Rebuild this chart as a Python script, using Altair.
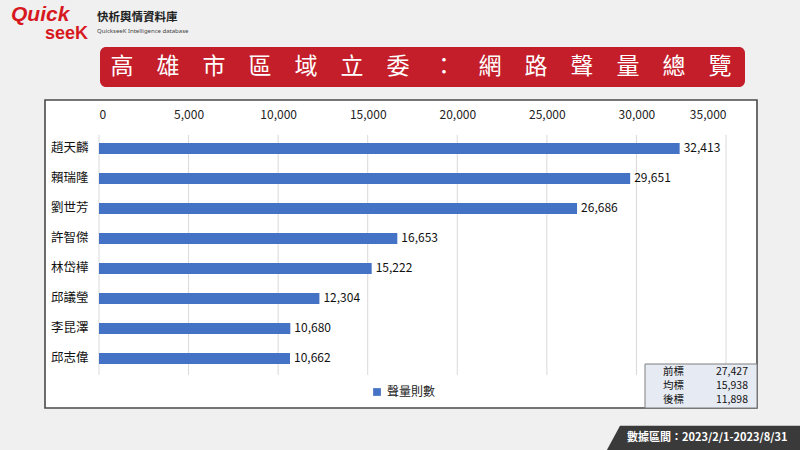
import altair as alt
import pandas as pd

names = ["趙天麟", "賴瑞隆", "劉世芳", "許智傑", "林岱樺", "邱議瑩", "李昆澤", "邱志偉"]
values = [32413, 29651, 26686, 16653, 15222, 12304, 10680, 10662]
series_name = "聲量則數"
x_ticks = [0, 5000, 10000, 15000, 20000, 25000, 30000, 35000]
stat_labels = ["前標", "均標", "後標"]
stat_values = ["27,427", "15,938", "11,898"]
title_text = "高雄市區域立委：網路聲量總覽"
footer_text = "數據區間：2023/2/1-2023/8/31"

FONT = "Noto Sans CJK TC"
OX, OY = 99, 135          # plot origin on the canvas
W, H = 627, 240

df = pd.DataFrame({"name": names, "value": values, "series": [series_name] * len(names)})
grid_df = pd.DataFrame({"value": x_ticks})
one = pd.DataFrame({"k": [0]})


def px(x):
    return x - OX


def py(y):
    return y - OY


base = alt.Chart(one)

# chart box
box = base.mark_rect(fill="white", stroke="#4a4a4a", strokeWidth=1.6).encode(
    x=alt.value(px(45)), x2=alt.value(px(757)), y=alt.value(py(100)), y2=alt.value(py(408))
)

# title banner
banner = base.mark_rect(fill="#c41e2a", cornerRadius=6).encode(
    x=alt.value(px(100)), x2=alt.value(px(745)), y=alt.value(py(47)), y2=alt.value(py(87))
)
banner_text = base.mark_text(
    font=FONT, fontSize=23, color="white", align="center", baseline="middle"
).encode(
    x=alt.value(px(421)), y=alt.value(py(67)), text=alt.value("\u2003".join(title_text))
)

# logo
logo1 = base.mark_text(font="Liberation Sans", fontSize=21, fontWeight="bold", fontStyle="italic",
                       color="#d7191f", align="left", baseline="middle").encode(
    x=alt.value(px(11)), y=alt.value(py(15)), text=alt.value("Quick"))
logo2 = base.mark_text(font="Liberation Sans", fontSize=18, fontWeight="bold",
                       color="#d7191f", align="left", baseline="middle").encode(
    x=alt.value(px(45)), y=alt.value(py(34)), text=alt.value("seeK"))
logo3 = base.mark_text(font=FONT, fontSize=11.5, fontWeight="bold", color="#222",
                       align="left", baseline="middle").encode(
    x=alt.value(px(97)), y=alt.value(py(18)), text=alt.value("快析輿情資料庫"))
logo4 = base.mark_text(font="Noto Sans", fontSize=6, color="#444",
                       align="left", baseline="middle").encode(
    x=alt.value(px(97)), y=alt.value(py(31)), text=alt.value("QuickseeK Intelligence database"))

# footer
footer_shape = base.mark_point(
    shape="M -0.846 -0.125 L 1.05 -0.125 L 1.05 0.14 L -0.99 0.14 Z",
    filled=True, fill="#3a3a3a", opacity=1, strokeWidth=0, size=38025
).encode(x=alt.value(px(702.5)), y=alt.value(py(438)))
footer = base.mark_text(font=FONT, fontSize=11, fontWeight="bold", color="white",
                        align="left", baseline="middle").encode(
    x=alt.value(px(627)), y=alt.value(py(438)), text=alt.value(footer_text))

# shared x encoding with the top axis
xaxis = alt.Axis(orient="top", values=x_ticks, format=",", formatType="number",
                 labelExpr="format(datum.value, ',')", title=None,
                 domain=False, ticks=False, tickSize=0, labelPadding=14,
                 labelFontSize=12, labelColor="#222", labelFont=FONT,
                 grid=False, zindex=1)
xscale = alt.Scale(domain=[0, 35000], nice=False)

# gridlines (drawn on top of the white box, below the bars)
grid = alt.Chart(grid_df).mark_rule(color="#d9d9d9", strokeWidth=1).encode(
    x=alt.X("value:Q", scale=xscale, axis=xaxis), y=alt.value(0), y2=alt.value(H)
)

# stats table
stat_box = base.mark_rect(fill="#e6eaf2", stroke="#7f7f7f", strokeWidth=1).encode(
    x=alt.value(px(645)), x2=alt.value(px(757)), y=alt.value(py(364)), y2=alt.value(py(408))
)
stat_layers = []
for i, (lab, val) in enumerate(zip(stat_labels, stat_values)):
    yy = py(371.5 + 14.2 * i)
    stat_layers.append(base.mark_text(font=FONT, fontSize=10.5, color="#111", align="left",
                                      baseline="middle").encode(
        x=alt.value(px(663)), y=alt.value(yy), text=alt.value(lab)))
    stat_layers.append(base.mark_text(font=FONT, fontSize=10.5, color="#111", align="right",
                                      baseline="middle").encode(
        x=alt.value(px(748)), y=alt.value(yy), text=alt.value(val)))

# bars
yenc = alt.Y("name:N", sort=names,
             scale=alt.Scale(paddingInner=0.63, paddingOuter=0.315, align=0.42),
             axis=alt.Axis(title=None, domain=False, ticks=False, labelPadding=11,
                           labelFontSize=12.5, labelColor="#111", labelFont=FONT, grid=False,
                           zindex=1))

bars = alt.Chart(df).mark_bar(color="#4472c4").encode(
    x=alt.X("value:Q", scale=xscale, axis=xaxis), y=yenc,
    color=alt.Color("series:N", scale=alt.Scale(range=["#4472c4"]),
                    legend=alt.Legend(title=None, orient="none", legendX=px(371), legendY=py(386),
                                      symbolType="square", symbolSize=60, labelFontSize=12,
                                      labelFont=FONT, labelColor="#222", symbolStrokeWidth=0,
                                      zindex=1))
)
labels = alt.Chart(df).mark_text(font=FONT, fontSize=12, color="#111", align="left",
                                 baseline="middle", dx=4).encode(
    x=alt.X("value:Q", scale=xscale, axis=xaxis), y=alt.Y("name:N", sort=names),
    text=alt.Text("value:Q", format=",")
)

chart = alt.layer(
    box, banner, banner_text, logo1, logo2, logo3, logo4, footer_shape, footer,
    grid, bars, labels, stat_box, *stat_layers
).properties(
    width=W, height=H,
    autosize=alt.AutoSizeParams(type="none"),
    padding={"left": OX, "top": OY, "right": 800 - OX - W, "bottom": 450 - OY - H},
    background="#f0f0f0",
).configure_view(stroke=None)

chart.save("out.html", embed_options={"renderer": "svg", "actions": False})
